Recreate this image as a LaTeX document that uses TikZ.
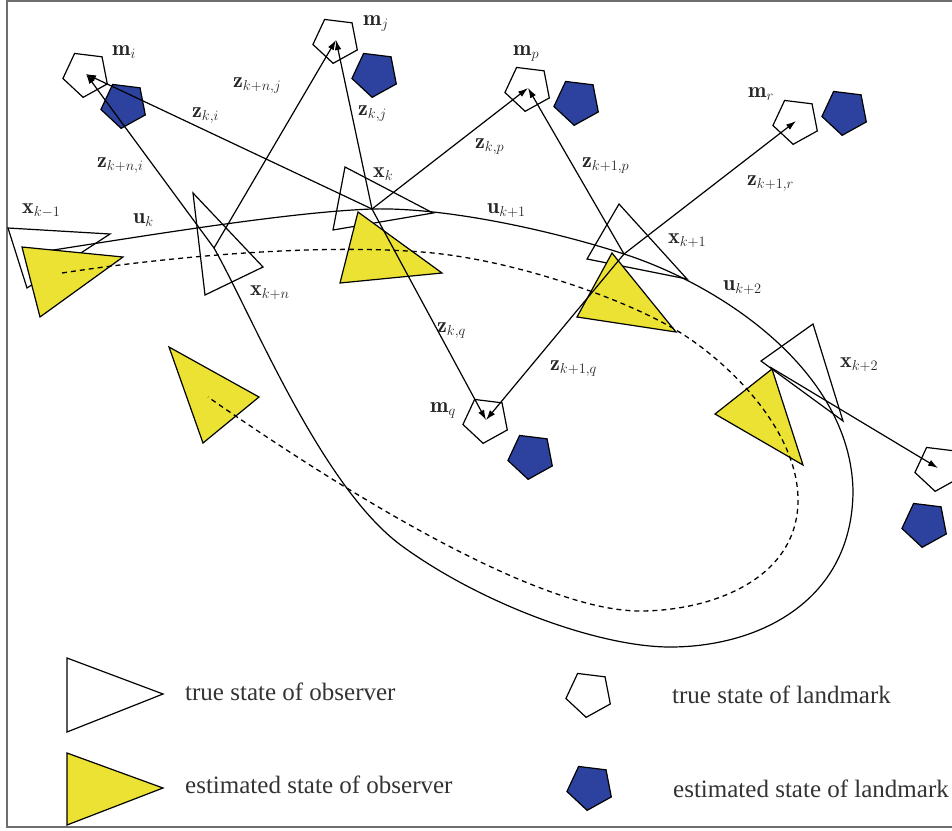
\documentclass[tikz,border=0pt]{standalone}
\usepackage{fontspec}
\newfontfamily\legendfont{Liberation Serif}
\usetikzlibrary{arrows.meta,shapes.geometric}
\definecolor{estyellow}{RGB}{236,226,52}
\definecolor{estblue}{RGB}{44,66,158}
\definecolor{framegray}{RGB}{110,110,110}

\begin{document}
\begin{tikzpicture}[x=1pt,y=-1pt,
  outline/.style={line width=1.2pt, line join=miter},
  truepose/.style={outline, draw=black, fill=white},
  estpose/.style={outline, draw=black, fill=estyellow},
  landmark/.style={regular polygon, regular polygon sides=5, shape border rotate=29,
    minimum size=47pt, inner sep=0pt, draw=black, line width=1.2pt},
  truemark/.style={landmark, fill=white},
  estmark/.style={landmark, fill=estblue},
  path true/.style={line width=1.2pt},
  path est/.style={line width=1.3pt, dash pattern=on 5pt off 4pt},
  meas/.style={line width=1.2pt, -{Latex[length=10pt,width=6.5pt]}},
  lbl/.style={anchor=base west, inner sep=0pt, text=black!85, font=\fontsize{22}{26}\selectfont},
  legend/.style={anchor=base west, inner sep=0pt, text=black!80, font=\legendfont\fontsize{25}{30}\selectfont}
]
\useasboundingbox (0,0) rectangle (952,830);

% frame
\draw[framegray, line width=1.8pt] (953,1) -- (7,1) -- (7,827) -- (953,827);

% observer positions (measurement origins)
\coordinate (okm1) at (47,251);
\coordinate (ok)   at (372,209);
\coordinate (okp1) at (624,254);
\coordinate (okp2) at (770,367);
\coordinate (okn)  at (214,248);
% waypoints of the true loop
\coordinate (loopR) at (853,490);
\coordinate (loopB) at (670,647);
\coordinate (loopL) at (402,546);

% true observer poses
\draw[truepose] (8,228) -- (110,234) -- (27,288) -- cycle;
\draw[truepose] (193,193) -- (263,267) -- (205,295) -- cycle;
\draw[truepose] (345,167) -- (433,213) -- (333,230) -- cycle;
\draw[truepose] (619,204) -- (687,279) -- (587,259) -- cycle;
\draw[truepose] (813,324) -- (843,421) -- (761,361) -- cycle;

% true trajectory
\draw[path true] (okm1) .. controls (150,235) and (290,212) .. (ok)
  .. controls (450,207) and (560,233) .. (okp1)
  .. controls (720,285) and (850,370) .. (loopR)
  .. controls (853,600) and (760,647) .. (loopB)
  .. controls (600,647) and (483,605) .. (loopL)
  .. controls (321,487) and (252,315) .. (okn);

% estimated observer poses
\draw[estpose] (22,247) -- (123,257) -- (40,317) -- cycle;
\draw[estpose] (358,212) -- (442,273) -- (340,283) -- cycle;
\draw[estpose] (612,253) -- (676,332) -- (577,317) -- cycle;
\draw[estpose] (772,369) -- (803,465) -- (715,414) -- cycle;
\draw[estpose] (169,347) -- (259,397) -- (203,443) -- cycle;

% estimated trajectory
\draw[path est] (62,273) .. controls (180,255) and (330,243) .. (433,253)
  .. controls (520,262) and (624,299) .. (676,330)
  .. controls (728,361) and (798,430) .. (798,500)
  .. controls (798,580) and (710,611) .. (640,611)
  .. controls (530,611) and (320,475) .. (208,397);

% landmarks: true and estimated
\node[truemark] (mi) at (86,74) {};
\node[estmark]  (mie) at (124,105) {};
\node[truemark] (mj) at (336,40) {};
\node[estmark]  (mje) at (375,74) {};
\node[truemark] (mp) at (528,88) {};
\node[estmark]  (mpe) at (577,102) {};
\node[truemark] (mr) at (796,121) {};
\node[estmark]  (mre) at (845,112) {};
\node[truemark] (mq) at (486,420) {};
\node[estmark]  (mqe) at (531,456) {};
\node[truemark] (ms) at (938,468) {};
\node[estmark]  (mse) at (925,524) {};

% measurements
\draw[meas] (ok) -- (mi.center);
\draw[meas] (ok) -- (mj.center);
\draw[meas] (ok) -- (mp.center);
\draw[meas] (ok) -- (mq.center);
\draw[meas] (okn) -- (mi.center);
\draw[meas] (okn) -- (mj.center);
\draw[meas] (okp1) -- (mp.center);
\draw[meas] (okp1) -- (mr.center);
\draw[meas] (okp1) -- (mq.center);
\draw[meas] (okp2) -- (ms.center);

% labels
\node[lbl] (lmi) at (112,55) {$\mathbf{m}_i$};
\node[lbl] (lmj) at (363,25) {$\mathbf{m}_j$};
\node[lbl] (lmp) at (513,55) {$\mathbf{m}_p$};
\node[lbl] (lmr) at (748,97) {$\mathbf{m}_r$};
\node[lbl] (lmq) at (430,412) {$\mathbf{m}_q$};
\node[lbl] (lzknj) at (233,87) {$\mathbf{z}_{k+n,j}$};
\node[lbl] (lzki) at (192,117) {$\mathbf{z}_{k,i}$};
\node[lbl] (lzkni) at (97,167) {$\mathbf{z}_{k+n,i}$};
\node[lbl] (lzkj) at (358,115) {$\mathbf{z}_{k,j}$};
\node[lbl] (lzkp) at (475,148) {$\mathbf{z}_{k,p}$};
\node[lbl] (lzk1p) at (582,167) {$\mathbf{z}_{k+1,p}$};
\node[lbl] (lzk1r) at (747,185) {$\mathbf{z}_{k+1,r}$};
\node[lbl] (lzkq) at (437,332) {$\mathbf{z}_{k,q}$};
\node[lbl] (lzk1q) at (550,370) {$\mathbf{z}_{k+1,q}$};
\node[lbl] (lxkm1) at (22,213) {$\mathbf{x}_{k-1}$};
\node[lbl] (luk) at (133,223) {$\mathbf{u}_k$};
\node[lbl] (lxk) at (373,177) {$\mathbf{x}_k$};
\node[lbl] (luk1) at (487,213) {$\mathbf{u}_{k+1}$};
\node[lbl] (lxk1) at (668,243) {$\mathbf{x}_{k+1}$};
\node[lbl] (luk2) at (723,290) {$\mathbf{u}_{k+2}$};
\node[lbl] (lxkn) at (250,295) {$\mathbf{x}_{k+n}$};
\node[lbl] (lxk2) at (840,367) {$\mathbf{x}_{k+2}$};

% legend
\draw[truepose] (67,658) -- (163,694) -- (67,732) -- cycle;
\draw[estpose] (67,753) -- (163,788) -- (67,825) -- cycle;
\node[truemark] (legm) at (589,694) {};
\node[estmark] (legme) at (590,787) {};
\node[legend] (t1) at (185,700) {true state of observer};
\node[legend] (t2) at (185,793) {estimated state of observer};
\node[legend] (t3) at (672,703) {true state of landmark};
\node[legend] (t4) at (673,797) {estimated state of landmark};
\end{tikzpicture}
\end{document}
